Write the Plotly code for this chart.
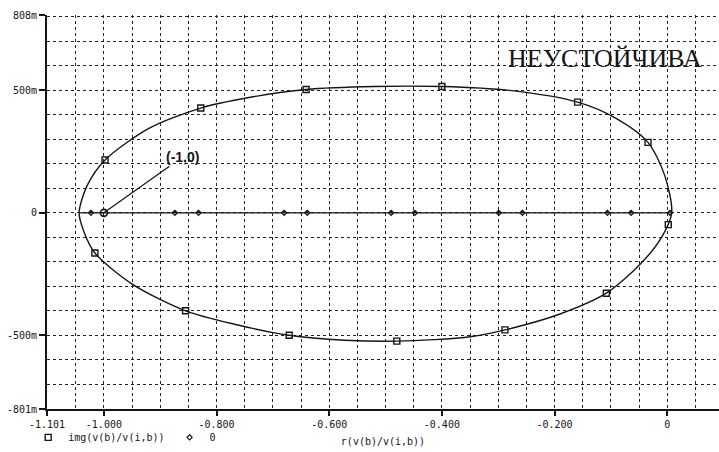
import plotly.graph_objects as go

curve_re = [0.008, -0.004, -0.034, -0.09, -0.159, -0.28, -0.400, -0.52, -0.641,
            -0.74, -0.828, -0.92, -0.998, -1.03, -1.044, -1.035, -1.016, -0.949,
            -0.855, -0.768, -0.671, -0.573, -0.480, -0.349, -0.288, -0.189, -0.108,
            -0.048, -0.010, 0.008]
curve_im = [0.0, 0.15, 0.288, 0.385, 0.452, 0.500, 0.516, 0.516, 0.504,
            0.472, 0.428, 0.345, 0.216, 0.11, 0.0, -0.08, -0.164, -0.292,
            -0.400, -0.455, -0.500, -0.520, -0.524, -0.506, -0.478, -0.412, -0.328,
            -0.21, -0.10, 0.0]

# square markers on the locus
mark_re = [-0.998, -0.828, -0.641, -0.400, -0.159, -0.034,
           -1.016, -0.855, -0.671, -0.480, -0.288, -0.108, 0.002]
mark_im = [0.216, 0.428, 0.504, 0.516, 0.452, 0.288,
           -0.164, -0.400, -0.500, -0.524, -0.478, -0.328, -0.048]

# the "0" trace
zero_line_re = [-1.044, 0.008]
zero_line_im = [0.0, 0.0]
zero_mark_re = [-1.023, -0.874, -0.832, -0.680, -0.639, -0.490, -0.448,
                -0.299, -0.257, -0.106, -0.064, 0.005]
zero_mark_im = [0.0] * len(zero_mark_re)

crit_re = [-1.0]
crit_im = [0.0]

x_tickvals = [-1.101, -1.0, -0.8, -0.6, -0.4, -0.2, 0.0]
x_ticktext = ["-1.101", "-1.000", "-0.800", "-0.600", "-0.400", "-0.200", "0"]
y_tickvals = [-0.801, -0.5, 0.0, 0.5, 0.808]
y_ticktext = ["-801m", "-500m", "0", "500m", "808m"]

INK = "#151515"
MONO = "DejaVu Sans Mono"

fig = go.Figure()
fig.add_trace(go.Scatter(x=curve_re, y=curve_im, mode="lines",
                         line=dict(color=INK, width=1.4, shape="spline", smoothing=0.8),
                         showlegend=False, hoverinfo="skip"))
fig.add_trace(go.Scatter(x=zero_line_re, y=zero_line_im, mode="lines",
                         line=dict(color=INK, width=1.4), showlegend=False, hoverinfo="skip"))
fig.add_trace(go.Scatter(x=mark_re, y=mark_im, mode="markers", name="img(v(b)/v(i,b))",
                         marker=dict(symbol="square-open", size=6, color=INK,
                                     line=dict(width=1.4, color=INK))))
fig.add_trace(go.Scatter(x=zero_mark_re, y=zero_mark_im, mode="markers", name="0",
                         marker=dict(symbol="diamond-open", size=4, color=INK,
                                     line=dict(width=1.2, color=INK))))
fig.add_trace(go.Scatter(x=crit_re, y=crit_im, mode="markers", showlegend=False,
                         marker=dict(symbol="circle-open", size=7, color=INK,
                                     line=dict(width=1.6, color=INK))))

fig.add_annotation(x=-1.0, y=0.0, xref="x", yref="y", text="<b>(-1,0)</b>",
                   showarrow=True, arrowhead=0, arrowwidth=1.2, arrowcolor=INK,
                   ax=79, ay=-56, font=dict(family="Liberation Sans", size=14, color=INK))
fig.add_annotation(x=0.683, y=0.89, xref="paper", yref="paper", xanchor="left",
                   yanchor="middle", text="НЕУСТОЙЧИВА", showarrow=False,
                   font=dict(family="Liberation Serif", size=26, color=INK))

grid = dict(showgrid=True, gridcolor="#222", gridwidth=1.2, griddash="dot")
fig.update_xaxes(range=[-1.101, 0.092], tickvals=x_tickvals, ticktext=x_ticktext,
                 ticks="outside", ticklen=5, tickcolor=INK, tickwidth=1.5,
                 showline=True, linecolor=INK, linewidth=2, zeroline=False,
                 minor=dict(dtick=0.05, tick0=0, showgrid=True, gridcolor="#222",
                            gridwidth=1.2, griddash="dot"),
                 tickfont=dict(family=MONO, size=10, color=INK),
                 title=dict(text="r(v(b)/v(i,b))", standoff=9,
                            font=dict(family=MONO, size=10, color=INK)),
                 **grid)
fig.update_yaxes(range=[-0.801, 0.808], tickvals=y_tickvals, ticktext=y_ticktext,
                 ticks="outside", ticklen=6, tickcolor=INK, tickwidth=1.5,
                 showline=True, linecolor=INK, linewidth=2, zeroline=False,
                 minor=dict(dtick=0.1, tick0=0, showgrid=True, gridcolor="#222",
                            gridwidth=1.2, griddash="dot"),
                 tickfont=dict(family=MONO, size=10, color=INK),
                 **grid)

fig.update_layout(width=719, height=452, margin=dict(l=47, r=0, t=15, b=37),
                  plot_bgcolor="white", paper_bgcolor="white",
                  legend=dict(orientation="h", x=-0.028, xanchor="left", y=-0.072,
                              yanchor="middle", font=dict(family=MONO, size=10, color=INK),
                              bgcolor="rgba(0,0,0,0)", itemwidth=30, tracegroupgap=0))

fig.write_html("out.html", config={"displayModeBar": False},
               post_script="document.body.style.margin='0px';document.body.style.overflow='hidden';")
